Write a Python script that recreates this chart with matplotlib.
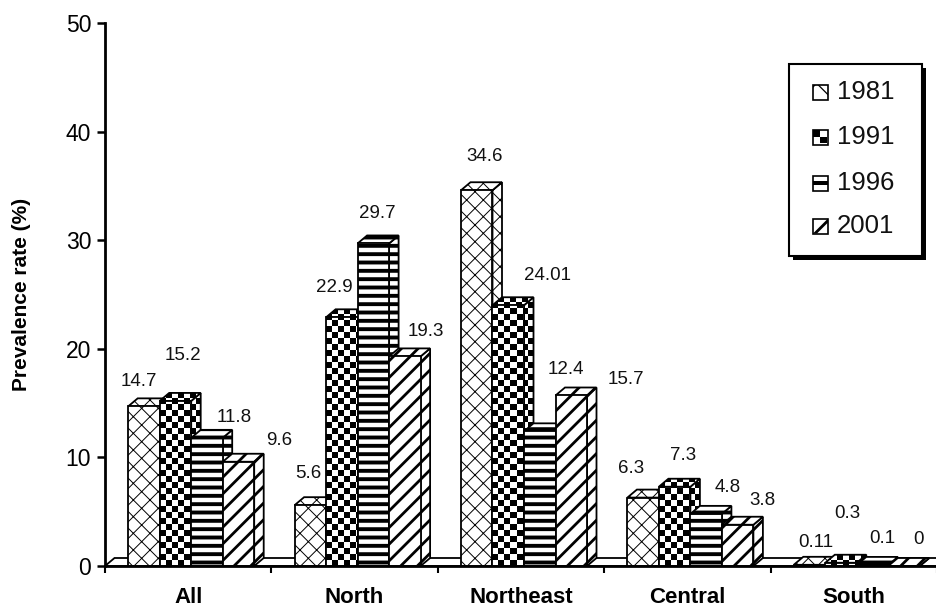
import matplotlib
matplotlib.use('Agg')
import matplotlib.pyplot as plt
import numpy as np
from matplotlib.patches import Polygon, Rectangle

plt.rcParams['font.family'] = ['Liberation Sans', 'DejaVu Sans']

# prevalence rate (%) by region and survey year
regions = ['All', 'North', 'Northeast', 'Central', 'South']
years = ['1981', '1991', '1996', '2001']
rate_1981 = [14.7, 5.6, 34.6, 6.3, 0.11]
rate_1991 = [15.2, 22.9, 24.01, 7.3, 0.3]
rate_1996 = [11.8, 29.7, 12.4, 4.8, 0.1]
rate_2001 = [9.6, 19.3, 15.7, 3.8, 0]
series = [rate_1981, rate_1991, rate_1996, rate_2001]

# where each value label sits relative to the top of its bar (pixels: right, up)
label_offsets = [
    [(-5, 25), (-2, 32), (8, 34), (-12, 29), (6, 22)],
    [(7, 45), (-8, 30), (39, 30), (8, 31), (6, 49)],
    [(27, 20), (4, 30), (26, 62), (22, 26), (10, 26)],
    [(41, 21), (21, 25), (55, 16), (25, 24), (14, 27)],
]

W, H = 937, 610
fig = plt.figure(figsize=(W / 100, H / 100), dpi=100)
ax = fig.add_axes([105 / W, 1 - 566 / H, 832 / W, 543 / H])

ux = 5 / 832      # data units per pixel, x
uy = 50 / 543     # data units per pixel, y
bar_w = 31.5 * ux
dep_x = 9.5 * ux
dep_y = 8 * uy
first_off = -60 * ux
LW = 1.3

cell_x = 6 * ux
cell_y = 6 * uy

z = [10]


def next_z():
    z[0] += 1
    return z[0]


def hatched_face(verts, hatch, hlw):
    with plt.rc_context({'hatch.linewidth': hlw}):
        p = Polygon(verts, closed=True, facecolor='white', edgecolor='black',
                    lw=LW, hatch=hatch, zorder=next_z())
    if hasattr(p, 'set_hatch_linewidth'):
        p.set_hatch_linewidth(hlw)
    ax.add_patch(p)


def checker_face(verts, x0, y0):
    verts = np.asarray(verts)
    base = Polygon(verts, closed=True, facecolor='white', edgecolor='none', zorder=next_z())
    ax.add_patch(base)
    i0 = int(np.floor((verts[:, 0].min() - x0) / cell_x))
    i1 = int(np.ceil((verts[:, 0].max() - x0) / cell_x))
    j0 = int(np.floor((verts[:, 1].min() - y0) / cell_y))
    j1 = max(int(np.ceil((verts[:, 1].max() - y0) / cell_y)), j0 + 1)
    ii, jj = np.meshgrid(np.arange(i0, i1), np.arange(j0, j1))
    board = (ii + jj) % 2
    im = ax.imshow(board, extent=(x0 + i0 * cell_x, x0 + i1 * cell_x,
                                  y0 + j0 * cell_y, y0 + j1 * cell_y),
                   origin='lower', cmap='gray_r', vmin=0, vmax=1,
                   interpolation='nearest', aspect='auto', zorder=next_z())
    im.set_clip_path(base)
    ax.add_patch(Polygon(verts, closed=True, fill=False, edgecolor='black',
                         lw=LW, zorder=next_z()))


def draw_face(verts, style, x0, y0):
    if style == 'checker':
        checker_face(verts, x0, y0)
    else:
        hatched_face(verts, style[0], style[1])


styles = [('xx', 0.7), 'checker', ('--', 2.8), ('//', 2.0)]

# floor slab under the bars
floor = Polygon([(-0.5, 0), (4.5, 0), (4.5 + dep_x, dep_y), (-0.5 + dep_x, dep_y)],
                closed=True, facecolor='white', edgecolor='black', lw=LW, zorder=next_z())
ax.add_patch(floor)

for k in range(len(regions)):
    for i, vals in enumerate(series):
        v = vals[k]
        x = k + first_off + i * bar_w
        front = [(x, 0), (x + bar_w, 0), (x + bar_w, v), (x, v)]
        side = [(x + bar_w, 0), (x + bar_w + dep_x, dep_y),
                (x + bar_w + dep_x, v + dep_y), (x + bar_w, v)]
        top = [(x, v), (x + bar_w, v), (x + bar_w + dep_x, v + dep_y), (x + dep_x, v + dep_y)]
        draw_face(side, styles[i], x, 0)
        draw_face(top, styles[i], x, 0)
        draw_face(front, styles[i], x, 0)

        dx, dy = label_offsets[i][k]
        ax.annotate(f'{v:g}', xy=(x + bar_w / 2, v), xytext=(dx * 0.72, dy * 0.72),
                    textcoords='offset points', ha='center', va='center',
                    fontsize=13.5, color='#111111', zorder=500)

ax.set_xlim(-0.5, 4.5)
ax.set_ylim(0, 50)

for s in ['top', 'right']:
    ax.spines[s].set_visible(False)
for s in ['left', 'bottom']:
    ax.spines[s].set_linewidth(2)
    ax.spines[s].set_zorder(1000)

ax.set_yticks(range(0, 51, 10))
ax.tick_params(axis='y', direction='out', length=6, width=1.8, labelsize=16.5, pad=4)
ax.set_xticks(np.arange(-0.5, 5, 1))
ax.set_xticklabels([])
ax.tick_params(axis='x', which='major', direction='out', length=5, width=1.5)
ax.set_xticks(range(len(regions)), minor=True)
ax.set_xticklabels(regions, minor=True, fontweight='bold', fontsize=16)
ax.tick_params(axis='x', which='minor', length=0, pad=15)

ax.set_ylabel('Prevalence rate (%)', fontsize=15, fontweight='bold')
ax.yaxis.set_label_coords(-0.089, 0.5)

# legend box drawn in pixel coordinates on an overlay
lg = fig.add_axes([0, 0, 1, 1])
lg.set_xlim(0, W)
lg.set_ylim(H, 0)
lg.axis('off')
lg.add_patch(Rectangle((793, 68), 133, 192, facecolor='black', edgecolor='none'))
lg.add_patch(Rectangle((789, 64), 133, 192, facecolor='white', edgecolor='black', lw=1.5))

rows = [92, 137, 183, 226]
sx, ss = 813, 15
# 1981 icon
with plt.rc_context({'hatch.linewidth': 0.9}):
    lg.add_patch(Rectangle((sx, rows[0] - ss / 2), ss, ss, facecolor='white',
                           edgecolor='black', lw=1.2, hatch='x'))
# 1991 icon
lg.add_patch(Rectangle((sx, rows[1] - ss / 2), ss, ss, facecolor='white', edgecolor='black', lw=1.2))
lg.add_patch(Rectangle((sx, rows[1] - ss / 2), ss / 2, ss / 2, facecolor='black', edgecolor='none'))
lg.add_patch(Rectangle((sx + ss / 2, rows[1]), ss / 2.4, ss / 2.4, facecolor='black', edgecolor='none'))
# 1996 icon
lg.add_patch(Rectangle((sx, rows[2] - ss / 2), ss, ss, facecolor='white', edgecolor='black', lw=1.2))
lg.add_patch(Rectangle((sx, rows[2] - 2), ss, 4, facecolor='black', edgecolor='none'))
# 2001 icon
lg.add_patch(Rectangle((sx, rows[3] - ss / 2), ss, ss, facecolor='white', edgecolor='black', lw=1.2))
lg.add_patch(Polygon([(sx, rows[3] + ss / 2), (sx + 4, rows[3] + ss / 2),
                      (sx + ss, rows[3] - ss / 2 + 4), (sx + ss, rows[3] - ss / 2)],
                     closed=True, facecolor='black', edgecolor='none'))
for yr, yc in zip(years, rows):
    lg.text(837, yc, yr, ha='left', va='center', fontsize=18.5, color='#111111')

fig.savefig('out.png', dpi=100, facecolor='white')
